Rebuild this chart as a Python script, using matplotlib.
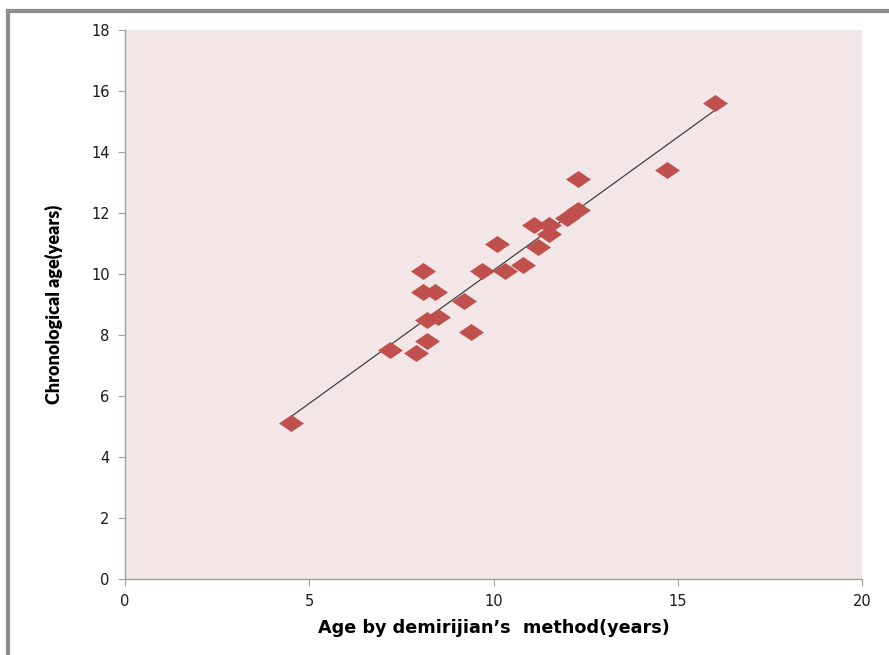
import numpy as np
import matplotlib.pyplot as plt
from matplotlib.lines import Line2D

# data
demirjian_age = [4.5, 7.2, 7.9, 8.2, 8.1, 8.1, 8.4, 8.2, 8.5, 9.2, 9.4, 9.7,
                 10.1, 10.3, 10.8, 11.1, 11.2, 11.5, 11.5, 12.0, 12.3, 12.3, 14.7, 16.0]
chrono_age = [5.1, 7.5, 7.4, 7.8, 10.1, 9.4, 9.4, 8.5, 8.6, 9.1, 8.1, 10.1,
              11.0, 10.1, 10.3, 11.6, 10.9, 11.6, 11.3, 11.85, 12.1, 13.1, 13.4, 15.6]
x_ticks = [0, 5, 10, 15, 20]
y_ticks = [0, 2, 4, 6, 8, 10, 12, 14, 16, 18]

x = np.array(demirjian_age)
y = np.array(chrono_age)

fig = plt.figure(figsize=(8.89, 6.55), dpi=100)
ax = fig.add_axes([125/889, 1-579/655, (862-125)/889, (579-30)/655])
ax.set_facecolor('#F2E7E6')

# linear trend line
k, b = np.polyfit(x, y, 1)
xl = np.array([x.min(), x.max()])
ax.plot(xl, k*xl + b, color='#404040', lw=0.9, zorder=2)

# flat diamond marker (wider than tall)
diamond = [(-1, 0), (0, 0.68), (1, 0), (0, -0.68), (-1, 0)]
ax.plot(x, y, linestyle='none', marker=diamond, ms=18, color='#C0504D',
        markeredgewidth=0, zorder=3)

ax.set_xlim(0, 20)
ax.set_ylim(0, 18)
ax.set_xticks(x_ticks)
ax.set_yticks(y_ticks)
for s in ['top', 'right']:
    ax.spines[s].set_visible(False)
for s in ['left', 'bottom']:
    ax.spines[s].set_color('#A0A0A0')
    ax.spines[s].set_linewidth(1.0)
ax.tick_params(direction='out', length=5, color='#A0A0A0', labelsize=10.5,
               labelcolor='#1A1A1A', pad=6)

ax.set_xlabel('Age by demirijian’s  method(years)', fontsize=12.7,
              fontweight='bold', family='DejaVu Sans', labelpad=7)
ax.set_ylabel('Chronological age(years)', fontsize=13, fontweight='heavy',
              family='Lato', labelpad=20)

# grey outer frame on the left and top
fig.add_artist(Line2D([8/889, 8/889], [0.002, 1-11/655], transform=fig.transFigure,
                      color='#8C8C8C', lw=3))
fig.add_artist(Line2D([8/889, 1.0], [1-11/655, 1-11/655], transform=fig.transFigure,
                      color='#8C8C8C', lw=3))

fig.savefig('out.png', dpi=100)
